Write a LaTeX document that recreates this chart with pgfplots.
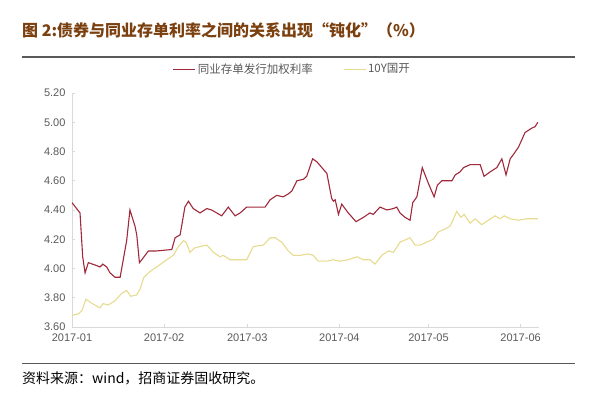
\documentclass[border=0pt]{standalone}
\usepackage{pgfplots}
\pgfplotsset{compat=1.18}
\usepackage{fontspec}
\setmainfont{Liberation Sans}
\newfontfamily\cjk{Noto Sans CJK SC}
\definecolor{redline}{HTML}{A0283A}
\definecolor{yelline}{HTML}{E6DB8E}
\definecolor{titlec}{HTML}{7A4010}
\definecolor{axgray}{HTML}{D9D9D9}
\definecolor{txtgray}{HTML}{595959}
\begin{document}
\begin{tikzpicture}[x=1pt,y=1pt]
\path[use as bounding box] (0,0) rectangle (600,394);
\node[anchor=west, text=titlec, font=\cjk\bfseries\fontsize{16}{16}\selectfont, inner sep=0pt] at (22,364) {图 2:债券与同业存单利率之间的关系出现“钝化”（\%）};
\draw[line width=1.2pt, color=black!65] (22,337) -- (575,337);
\draw[line width=0.8pt, color=black!65] (22,31) -- (575,31);
\node[anchor=west, text=black, font=\cjk\fontsize{14}{14}\selectfont, inner sep=0pt] at (22,16) {资料来源：wind，招商证券固收研究。};
\begin{axis}[at={(72pt,67pt)}, anchor=south west, width=467pt, height=234pt, scale only axis,
  xmin=0, xmax=157.2, ymin=3.6, ymax=5.2,
  axis x line*=bottom, axis y line*=left,
  axis line style={axgray, line width=0.8pt},
  tick style={axgray, line width=0.8pt},
  tick align=inside, major tick length=3pt,
  xtick={0,31,59,90,120,151},
  xticklabels={2017-01,2017-02,2017-03,2017-04,2017-05,2017-06},
  ytick={3.6,3.8,4.0,4.2,4.4,4.6,4.8,5.0,5.2},
  yticklabel style={/pgf/number format/fixed, /pgf/number format/fixed zerofill, /pgf/number format/precision=2, xshift=-3pt},
  /pgf/number format/assume math mode=true,
  ticklabel style={font=\fontsize{11}{11}\selectfont, text=txtgray},
  xticklabel style={yshift=-3pt},
  legend style={at={(0.472,1.06)}, anchor=south, draw=none, legend columns=2,
    font=\cjk\fontsize{11.5}{11.5}\selectfont, text=txtgray,
    /tikz/every even column/.append style={column sep=28pt}},
  legend image code/.code={\draw[#1] (0pt,0pt) -- (22pt,0pt);},
]
\addplot[redline, line width=1.1pt] coordinates {
(0,4.45)(2.7,4.38)(3.6,4.08)(4.4,3.97)(5.5,4.04)(8.3,4.02)(9.4,4.01)(10.4,4.03)(11.7,4.01)(12.8,3.97)(14.5,3.94)(16.2,3.94)(18.4,4.19)(19.5,4.40)(21.2,4.29)(21.8,4.23)(22.7,4.04)(23.5,4.06)(25.7,4.12)(28.5,4.12)(33.6,4.13)(34.7,4.21)(36.4,4.23)(38.0,4.42)(39.2,4.46)(40.8,4.41)(43.1,4.38)(45.4,4.41)(47.0,4.40)(48.7,4.38)(50.4,4.36)(52.6,4.42)(54.9,4.36)(56.6,4.38)(58.8,4.42)(61.6,4.42)(65.0,4.42)(66.7,4.47)(68.9,4.50)(71.1,4.49)(72.8,4.51)(74.0,4.53)(75.7,4.60)(77.9,4.61)(79.0,4.63)(81.0,4.75)(82.4,4.73)(84.1,4.69)(85.8,4.65)(87.4,4.48)(88.0,4.46)(88.6,4.47)(89.7,4.37)(90.8,4.44)(93.0,4.38)(95.6,4.32)(98.1,4.35)(100.3,4.38)(101.4,4.37)(103.7,4.42)(106.0,4.40)(108.2,4.41)(109.3,4.42)(110.4,4.38)(112.1,4.35)(113.8,4.33)(114.7,4.45)(116.1,4.49)(117.9,4.69)(120.0,4.58)(121.9,4.49)(123.0,4.57)(124.5,4.60)(127.9,4.60)(129.0,4.64)(130.6,4.66)(131.8,4.69)(134.0,4.71)(135.7,4.71)(137.4,4.71)(138.7,4.63)(140.7,4.66)(143.0,4.69)(144.7,4.75)(146.1,4.64)(147.5,4.75)(148.6,4.78)(150.3,4.83)(152.5,4.93)(154.8,4.96)(155.9,4.97)(156.8,5.00)
};
\addlegendentry{同业存单发行加权利率}
\addplot[yelline, line width=1.1pt] coordinates {
(0,3.68)(2.1,3.69)(3.3,3.71)(4.7,3.79)(6.1,3.77)(7.7,3.75)(9.4,3.73)(10.5,3.76)(12.2,3.75)(14.5,3.78)(16.7,3.83)(18.4,3.85)(19.8,3.81)(21.8,3.82)(22.9,3.86)(24.2,3.94)(26.3,3.98)(28.5,4.01)(31.9,4.06)(34.1,4.09)(35.8,4.15)(37.5,4.19)(38.4,4.18)(39.7,4.11)(41.2,4.14)(43.1,4.15)(45.4,4.16)(47.6,4.11)(49.8,4.08)(50.9,4.09)(53.2,4.06)(58.8,4.06)(61.0,4.15)(64.4,4.16)(66.7,4.21)(68.4,4.21)(70.6,4.18)(72.8,4.12)(74.5,4.09)(76.8,4.09)(79.6,4.10)(81.2,4.09)(82.9,4.05)(85.8,4.05)(88.0,4.06)(90.2,4.05)(93.0,4.06)(95.9,4.08)(98.1,4.06)(100.3,4.06)(102.0,4.03)(104.3,4.09)(106.5,4.12)(108.2,4.11)(110.4,4.18)(113.8,4.21)(115.5,4.16)(117.2,4.16)(119.4,4.18)(121.6,4.20)(123.3,4.25)(125.6,4.27)(127.3,4.29)(128.2,4.33)(129.5,4.39)(130.9,4.35)(132.0,4.37)(134.0,4.31)(135.7,4.34)(137.9,4.30)(140.2,4.33)(142.4,4.36)(144.1,4.34)(145.5,4.36)(147.5,4.34)(150.3,4.33)(153.1,4.34)(156.8,4.34)
};
\addlegendentry{10Y国开}
\end{axis}
\end{tikzpicture}
\end{document}
